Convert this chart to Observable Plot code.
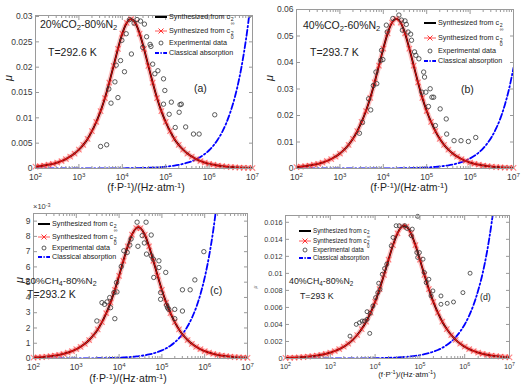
<!DOCTYPE html>
<html><head><meta charset="utf-8">
<script src="https://cdn.jsdelivr.net/npm/d3@7"></script>
<script src="https://cdn.jsdelivr.net/npm/@observablehq/plot@0.6"></script>
<style>
body{margin:0;background:#fff;}
#root{position:relative;width:523px;height:384px;overflow:hidden;background:#fff;font-family:"Liberation Sans",Arial,sans-serif;color:#222;}
#root svg{position:absolute;left:0;top:0;}
.t{position:absolute;white-space:nowrap;line-height:1;}
.ss{display:inline-flex;flex-direction:column;font-size:0.72em;line-height:0.85;vertical-align:-0.35em;margin-left:0.5px;}
sub{font-size:0.72em;vertical-align:-0.3em;line-height:0;}
sup{font-size:0.72em;vertical-align:0.45em;line-height:0;}
</style></head><body><div id="root"></div><script>
const W = 523, H = 384;
const FONT = '"Liberation Sans", Arial, sans-serif';

// shared sample positions (log10 of f·P^-1) for the synthesized and classical curves
const curveLogF = [2.0,2.1,2.2,2.3,2.4,2.5,2.6,2.7,2.8,2.9,3.0,3.1,3.2,3.3,3.4,3.5,3.6,3.7,3.8,3.9,4.0,4.1,4.2,4.3,4.4,4.5,4.6,4.7,4.8,4.9,5.0,5.1,5.2,5.3,5.4,5.5,5.6,5.7,5.8,5.9,6.0,6.1,6.2,6.3,6.4,6.5,6.6,6.7,6.8,6.9,7.0];
const xTickExp = [2,3,4,5,6,7];

// ---------- panel (a) 20%CO2-80%N2 ----------
const a_synInf = [0.000372,0.000469,0.000590,0.000743,0.000935,0.00118,0.00148,0.00186,0.00235,0.00295,
 0.00371,0.00466,0.00584,0.00736,0.00918,0.01133,0.01391,0.01696,0.02027,0.02363,
 0.02662,0.02873,0.0295,0.02873,0.02662,0.02363,0.02027,0.01696,0.01391,0.01133,
 0.00918,0.00736,0.00584,0.00466,0.00371,0.00295,0.00235,0.00186,0.00148,0.00118,
 0.000935,0.000743,0.000590,0.000469,0.000372,0.000295,0.000236,0.000186,0.000148,0.000118,0.0000944];
const a_syn0 = a_synInf.slice();
const a_classic = [3.6e-7,4.53e-7,5.71e-7,7.18e-7,9.04e-7,1.14e-6,1.43e-6,1.80e-6,2.27e-6,2.86e-6,
 3.6e-6,4.53e-6,5.71e-6,7.18e-6,9.04e-6,1.14e-5,1.43e-5,1.80e-5,2.27e-5,2.86e-5,
 3.6e-5,4.53e-5,5.71e-5,7.18e-5,9.04e-5,1.14e-4,1.43e-4,1.80e-4,2.27e-4,2.86e-4,
 3.6e-4,4.53e-4,5.71e-4,7.18e-4,9.04e-4,1.14e-3,1.43e-3,1.80e-3,2.27e-3,2.86e-3,
 3.6e-3,4.53e-3,5.71e-3,7.18e-3,9.04e-3,0.0114,0.0143,0.0180,0.0227,0.0286,0.036];
const a_expLogF = [3.50,3.64,3.69,3.74,3.83,3.86,3.90,3.96,3.99,4.05,4.09,4.17,4.21,4.27,4.34,4.42,4.51,4.56,4.47,4.64,4.66,4.70,4.75,4.82,4.95,4.98,4.95,5.08,5.13,5.33,5.36,5.31,5.22,5.46,5.64,5.77,6.13];
const a_expMu   = [0.00435,0.00468,0.0157,0.0129,0.0171,0.0204,0.0140,0.0213,0.0253,0.0191,0.0266,0.0294,0.0226,0.0287,0.0294,0.0291,0.0285,0.0260,0.0239,0.0245,0.0241,0.0206,0.0187,0.0193,0.0177,0.0154,0.0127,0.0107,0.0131,0.0126,0.0127,0.0111,0.0081,0.0082,0.0068,0.0068,0.0106];
const a_yTicks = [0,0.005,0.01,0.015,0.02,0.025,0.03];
const a_yLabels = ["0","0.005","0.01","0.015","0.02","0.025","0.03"];

// ---------- panel (b) 40%CO2-60%N2 ----------
const b_synInf = [0.000565,0.000712,0.000898,0.00113,0.00142,0.00179,0.00225,0.00284,0.00357,0.00449,
 0.00565,0.00710,0.00892,0.01119,0.01410,0.01758,0.02169,0.02665,0.03249,0.03883,
 0.04526,0.05099,0.05503,0.0565,0.05503,0.05099,0.04526,0.03883,0.03249,0.02665,
 0.02169,0.01758,0.01410,0.01119,0.00892,0.00710,0.00565,0.00449,0.00357,0.00284,
 0.00225,0.00179,0.00142,0.00113,0.000898,0.000712,0.000565,0.000452,0.000356,0.000283,0.000226];
const b_syn0 = b_synInf.slice();
const b_classic = [3.8e-7,4.78e-7,6.02e-7,7.58e-7,9.55e-7,1.20e-6,1.51e-6,1.90e-6,2.40e-6,3.02e-6,
 3.8e-6,4.78e-6,6.02e-6,7.58e-6,9.55e-6,1.20e-5,1.51e-5,1.90e-5,2.40e-5,3.02e-5,
 3.8e-5,4.78e-5,6.02e-5,7.58e-5,9.55e-5,1.20e-4,1.51e-4,1.90e-4,2.40e-4,3.02e-4,
 3.8e-4,4.78e-4,6.02e-4,7.58e-4,9.55e-4,1.20e-3,1.51e-3,1.90e-3,2.40e-3,3.02e-3,
 3.8e-3,4.78e-3,6.02e-3,7.58e-3,9.55e-3,0.0120,0.0151,0.0190,0.0240,0.0302,0.038];
const b_expLogF = [3.45,3.52,3.66,3.71,3.77,3.83,3.85,3.94,3.96,3.99,4.07,4.09,4.22,4.36,4.42,4.50,4.53,4.44,4.57,4.63,4.65,4.72,4.75,4.82,4.93,4.95,4.89,4.98,5.08,5.12,5.16,5.04,5.31,5.20,5.45,5.46,5.63,5.79,5.96,6.13];
const b_expMu   = [0.0133,0.0174,0.0263,0.0221,0.0313,0.0364,0.0320,0.0408,0.0446,0.0411,0.0541,0.0515,0.0566,0.0579,0.0560,0.0557,0.0544,0.0522,0.0515,0.0507,0.0484,0.0440,0.0427,0.0414,0.0364,0.0345,0.0288,0.0288,0.0301,0.0269,0.0269,0.0234,0.0225,0.0162,0.0187,0.0130,0.0105,0.0105,0.0102,0.0117];
const b_yTicks = [0,0.01,0.02,0.03,0.04,0.05,0.06];
const b_yLabels = ["0","0.01","0.02","0.03","0.04","0.05","0.06"];

// ---------- panel (c) 20%CH4-80%N2 ----------
const c_synInf = [6.1e-5,7.7e-5,9.6e-5,1.22e-4,1.53e-4,1.93e-4,2.43e-4,3.06e-4,3.84e-4,4.84e-4,
 6.10e-4,7.66e-4,9.64e-4,1.212e-3,1.520e-3,1.906e-3,2.382e-3,2.966e-3,3.664e-3,4.490e-3,
 5.419e-3,6.404e-3,7.345e-3,8.112e-3,8.543e-3,8.543e-3,8.112e-3,7.345e-3,6.404e-3,5.419e-3,
 4.490e-3,3.664e-3,2.966e-3,2.382e-3,1.906e-3,1.520e-3,1.212e-3,9.64e-4,7.66e-4,6.10e-4,
 4.84e-4,3.84e-4,3.06e-4,2.43e-4,1.93e-4,1.53e-4,1.22e-4,9.6e-5,7.7e-5,6.1e-5,4.8e-5];
const c_syn0 = c_synInf.slice();
const c_classic = [5.3e-7,6.67e-7,8.40e-7,1.06e-6,1.33e-6,1.68e-6,2.11e-6,2.66e-6,3.34e-6,4.21e-6,
 5.3e-6,6.67e-6,8.40e-6,1.06e-5,1.33e-5,1.68e-5,2.11e-5,2.66e-5,3.34e-5,4.21e-5,
 5.3e-5,6.67e-5,8.40e-5,1.06e-4,1.33e-4,1.68e-4,2.11e-4,2.66e-4,3.34e-4,4.21e-4,
 5.3e-4,6.67e-4,8.40e-4,1.06e-3,1.33e-3,1.68e-3,2.11e-3,2.66e-3,3.34e-3,4.21e-3,
 5.3e-3,6.67e-3,8.40e-3,0.0106,0.0133,0.0168,0.0211,0.0266,0.0334,0.0421,0.053];
const c_expLogF = [3.48,3.60,3.66,3.72,3.78,3.80,3.88,3.90,3.94,3.95,4.05,4.11,4.19,4.25,4.28,4.42,4.44,4.54,4.59,4.63,4.64,4.75,4.75,4.80,4.81,4.93,4.93,4.97,4.97,5.09,5.11,5.13,5.16,5.30,5.30,5.48,5.48,5.66,5.77,5.98];
const c_expMu   = [2.46e-3,3.66e-3,3.55e-3,3.71e-3,3.99e-3,3.33e-3,4.32e-3,2.61e-3,4.98e-3,4.36e-3,6.03e-3,7.06e-3,6.95e-3,7.43e-3,7.83e-3,8.93e-3,7.35e-3,8.05e-3,7.57e-3,8.93e-3,6.84e-3,8.09e-3,6.73e-3,6.51e-3,5.31e-3,6.40e-3,5.96e-3,4.32e-3,3.88e-3,5.64e-3,3.49e-3,3.33e-3,3.22e-3,3.22e-3,2.61e-3,4.50e-3,3.11e-3,4.50e-3,5.15e-3,7.00e-3];
const c_yTicks = [0,0.001,0.002,0.003,0.004,0.005,0.006,0.007,0.008,0.009];
const c_yLabels = ["0","1","2","3","4","5","6","7","8","9"];

// ---------- panel (d) 40%CH4-80%N2 ----------
const d_synInf = [7.0e-5,8.7e-5,1.11e-4,1.39e-4,1.75e-4,2.22e-4,2.78e-4,3.49e-4,4.40e-4,5.55e-4,
 6.97e-4,8.78e-4,1.106e-3,1.390e-3,1.749e-3,2.198e-3,2.758e-3,3.457e-3,4.321e-3,5.380e-3,
 6.647e-3,8.145e-3,9.830e-3,0.011617,0.013324,0.014714,0.015497,0.015497,0.014714,0.013324,
 0.011617,9.830e-3,8.145e-3,6.647e-3,5.380e-3,4.321e-3,3.457e-3,2.758e-3,2.198e-3,1.749e-3,
 1.390e-3,1.106e-3,8.78e-4,6.97e-4,5.55e-4,4.40e-4,3.49e-4,2.78e-4,2.22e-4,1.75e-4,1.39e-4];
const d_syn0 = d_synInf.slice();
const d_classic = [4.0e-7,5.04e-7,6.34e-7,7.98e-7,1.0e-6,1.26e-6,1.59e-6,2.0e-6,2.52e-6,3.18e-6,
 4.0e-6,5.04e-6,6.34e-6,7.98e-6,1.0e-5,1.26e-5,1.59e-5,2.0e-5,2.52e-5,3.18e-5,
 4.0e-5,5.04e-5,6.34e-5,7.98e-5,1.0e-4,1.26e-4,1.59e-4,2.0e-4,2.52e-4,3.18e-4,
 4.0e-4,5.04e-4,6.34e-4,7.98e-4,1.0e-3,1.26e-3,1.59e-3,2.0e-3,2.52e-3,3.18e-3,
 4.0e-3,5.04e-3,6.34e-3,7.98e-3,0.0100,0.0126,0.0159,0.0200,0.0252,0.0318,0.040];
const d_expLogF = [3.44,3.58,3.65,3.71,3.76,3.82,3.82,3.88,3.89,3.95,4.01,4.06,4.08,4.11,4.16,4.21,4.26,4.36,4.40,4.47,4.54,4.66,4.71,4.81,4.83,4.95,4.93,4.95,4.99,5.07,5.10,5.14,5.20,5.29,5.25,5.47,5.47,5.61,5.75,5.96,6.12];
const d_expMu   = [0.00263,0.00401,0.00420,0.00440,0.00440,0.00460,0.00550,0.00295,0.00531,0.00617,0.00715,0.00774,0.00884,0.00813,0.00990,0.01057,0.01108,0.01324,0.01422,0.01560,0.01560,0.01560,0.01528,0.01442,0.01520,0.0167,0.01245,0.01187,0.01245,0.01167,0.01010,0.00892,0.00931,0.00794,0.00735,0.00735,0.00637,0.00648,0.00664,0.00774,0.01002];
const d_yTicks = [0,0.002,0.004,0.006,0.008,0.01,0.012,0.014,0.016];
const d_yLabels = ["0","0.002","0.004","0.006","0.008","0.01","0.012","0.014","0.016"];

const legendTexts = ["Synthesized from c", "Synthesized from c", "Experimental data", "Classical absorption"];

const root = document.getElementById("root");

function buildPanel(p) {
  const curve = curveLogF.map((e, i) => ({f: 10 ** e, inf: p.synInf[i], zero: p.syn0[i], cl: p.classic[i]}));
  const exp = p.expLogF.map((e, i) => ({f: 10 ** e, m: p.expMu[i]}));
  const majorX = xTickExp.map(e => 10 ** e);
  const minorX = [];
  for (let e = 2; e < 7; e++) for (let k = 2; k <= 9; k++) minorX.push(k * 10 ** e);
  const fc = "#9a9a9a";
  const svg = Plot.plot({
    width: W, height: H,
    marginLeft: p.L, marginRight: W - p.R, marginTop: p.T, marginBottom: H - p.B,
    style: {background: "transparent", overflow: "visible", fontFamily: FONT, fontSize: p.tickFs + "px", color: "#3a3a3a"},
    x: {type: "log", domain: [1e2, 1e7]},
    y: {domain: [0, p.yMax]},
    marks: [
      Plot.line(curve, {x: "f", y: "cl", stroke: "#0000ff", strokeWidth: 1.8, strokeDasharray: "6,2.5,1.5,2.5", curve: "monotone-x", clip: true}),
      Plot.line(curve, {x: "f", y: "zero", stroke: "#ff7070", strokeOpacity: 0.45, strokeWidth: 5, curve: "natural", clip: true}),
      Plot.line(curve, {x: "f", y: "inf", stroke: "#000", strokeWidth: 1.8, curve: "natural", clip: true}),
      Plot.line(curve, {x: "f", y: "zero", stroke: "#ff0000", strokeWidth: 0.9, curve: "natural", clip: true}),
      Plot.dot(curve, {x: "f", y: "zero", symbol: "times", r: 2.6, stroke: "#ff2020", strokeOpacity: 0.55, strokeWidth: 1.1}),
      Plot.dot(exp, {x: "f", y: "m", r: p.dotR, stroke: "#333", strokeWidth: 0.8, fill: "none"}),
      Plot.frame({stroke: fc}),
      Plot.axisX({ticks: majorX, anchor: "bottom", tickSize: -4, tickPadding: 9, stroke: fc, tickFormat: d => String(Math.round(Math.log10(d))), label: null}),
      Plot.axisX({ticks: majorX, anchor: "top", tickSize: -4, stroke: fc, tickFormat: () => "", label: null}),
      Plot.axisX({ticks: minorX, anchor: "bottom", tickSize: -2, stroke: fc, tickFormat: () => "", label: null}),
      Plot.axisX({ticks: minorX, anchor: "top", tickSize: -2, stroke: fc, tickFormat: () => "", label: null}),
      Plot.axisY({ticks: p.yTicks, anchor: "left", tickSize: -4, tickPadding: 7, stroke: fc, tickFormat: d => p.yLabels[p.yTicks.indexOf(d)], label: null}),
      Plot.axisY({ticks: p.yTicks, anchor: "right", tickSize: -4, stroke: fc, tickFormat: () => "", label: null})
    ]
  });
  d3.select(svg).selectAll('g[aria-label="x-axis tick label"] text').each(function () {
    const e = this.textContent;
    if (!e) return;
    this.textContent = "10";
    d3.select(this).append("tspan").attr("dy", "-0.45em").attr("font-size", "0.72em").text(e);
  });
  root.appendChild(svg);
}

function addText(html, x, y, fs, extra) {
  const d = document.createElement("div");
  d.className = "t";
  d.innerHTML = html;
  d.style.left = x + "px";
  d.style.top = y + "px";
  d.style.fontSize = fs + "px";
  if (extra) Object.assign(d.style, extra);
  root.appendChild(d);
  return d;
}

function addLegend(x, x2, rows, fs) {
  const syms = [
    '<line x1="0" y1="5" x2="LEN" y2="5" stroke="#000" stroke-width="2"/>',
    '<line x1="0" y1="5" x2="LEN" y2="5" stroke="#ff3030" stroke-width="0.8"/><path d="M MID1,2.5 L MID2,7.5 M MID1,7.5 L MID2,2.5" stroke="#ff3030" stroke-width="1"/>',
    '<circle cx="MIDC" cy="5" r="2" fill="none" stroke="#333" stroke-width="0.8"/>',
    '<line x1="0" y1="5" x2="LEN" y2="5" stroke="#0000ff" stroke-width="1.8" stroke-dasharray="4,1.5,1.2,1.5"/>'
  ];
  const len = x2 - x;
  const texts = [
    legendTexts[0] + '<span class="ss"><span>2</span><span>&infin;</span></span>',
    legendTexts[1] + '<span class="ss"><span>2</span><span>0</span></span>',
    legendTexts[2],
    legendTexts[3]
  ];
  rows.forEach((y, i) => {
    const s = syms[i].replace(/LEN/g, len).replace(/MID1/g, len / 2 - 2.5).replace(/MID2/g, len / 2 + 2.5).replace(/MIDC/g, len / 2);
    addText('<svg width="' + len + '" height="10" style="position:static;display:block">' + s + '</svg>', x, y - 5, fs);
    addText(texts[i], x2 + 2, y - fs * 0.55, fs);
  });
}

const panels = [
  {L: 35, R: 252, T: 15, B: 168, yMax: 0.0302, synInf: a_synInf, syn0: a_syn0, classic: a_classic, expLogF: a_expLogF, expMu: a_expMu, yTicks: a_yTicks, yLabels: a_yLabels, tickFs: 8.5, dotR: 2.2},
  {L: 296, R: 513, T: 9, B: 168, yMax: 0.06, synInf: b_synInf, syn0: b_syn0, classic: b_classic, expLogF: b_expLogF, expMu: b_expMu, yTicks: b_yTicks, yLabels: b_yLabels, tickFs: 8.5, dotR: 2.2},
  {L: 33, R: 247, T: 213, B: 358, yMax: 0.0095, synInf: c_synInf, syn0: c_syn0, classic: c_classic, expLogF: c_expLogF, expMu: c_expMu, yTicks: c_yTicks, yLabels: c_yLabels, tickFs: 8.5, dotR: 2.2},
  {L: 285, R: 509, T: 215, B: 358, yMax: 0.0168, synInf: d_synInf, syn0: d_syn0, classic: d_classic, expLogF: d_expLogF, expMu: d_expMu, yTicks: d_yTicks, yLabels: d_yLabels, tickFs: 7.3, dotR: 2}
];
panels.forEach(buildPanel);

addLegend(155, 167, [17, 31, 43, 53], 7.2);
addLegend(424, 436, [23, 38, 51, 61], 7.2);
addLegend(38, 50, [224, 237, 248, 257], 7.2);
addLegend(299, 311, [231, 241, 250, 258], 6.3);

addText('20%CO<sub>2</sub>-80%N<sub>2</sub>', 40, 19, 10.5);
addText('T=292.6 K', 48, 47, 10.5);
addText('(a)', 194, 83, 10.5);
addText('40%CO<sub>2</sub>-60%N<sub>2</sub>', 303, 20, 10.5);
addText('T=293.7 K', 310, 47, 10.5);
addText('(b)', 461, 84, 10.5);
addText('20%CH<sub>4</sub>-80%N<sub>2</sub>', 25, 276, 9.8);
addText('T=293.2 K', 27, 289, 10.5);
addText('(c)', 210, 285, 10.5);
addText('40%CH<sub>4</sub>-80%N<sub>2</sub>', 289, 277, 8.8);
addText('T=293 K', 300, 292, 8.8);
addText('(d)', 480, 293, 8.8);
addText('&times;10<sup>-3</sup>', 33, 203, 7.5, {color: "#3a3a3a"});

const xl = '(f&middot;P<sup>-1</sup>)/(Hz&middot;atm<sup>-1</sup>)';
addText(xl, 146, 182, 10.5, {transform: "translateX(-50%)"});
addText(xl, 409, 182, 10.5, {transform: "translateX(-50%)"});
addText(xl, 128, 372.5, 10.5, {transform: "translateX(-50%)"});
addText(xl, 407, 370.5, 7.8, {transform: "translateX(-50%)"});
addText('&mu;', 8, 78, 11, {fontStyle: "italic", transform: "translate(-50%,-50%) rotate(-90deg)"});
addText('&mu;', 269, 78, 11, {fontStyle: "italic", transform: "translate(-50%,-50%) rotate(-90deg)"});
addText('&mu;', 19, 280, 11, {fontStyle: "italic", transform: "translate(-50%,-50%) rotate(-90deg)"});
addText('&mu;', 255, 287, 5, {fontStyle: "italic", transform: "translate(-50%,-50%) rotate(-90deg)", color: "#666"});
</script></body></html>
